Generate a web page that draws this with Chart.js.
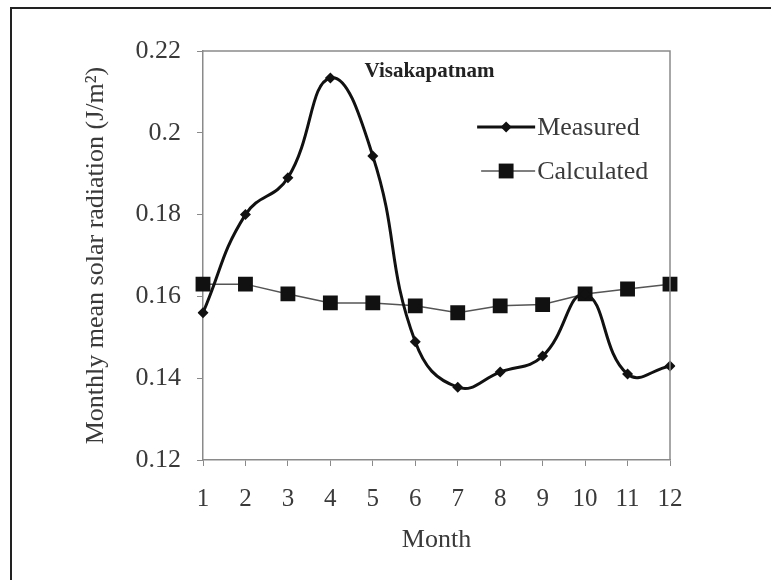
<!DOCTYPE html>
<html>
<head>
<meta charset="utf-8">
<script src="https://cdn.jsdelivr.net/npm/chart.js@4"></script>
<style>
    html, body { margin: 0; padding: 0; background: #fff; }
    #wrap { position: relative; width: 771px; height: 580px; overflow: hidden; }
    #frame { position: absolute; left: 10px; top: 7px; width: 800px; height: 600px;
             border-top: 2px solid #222; border-left: 2px solid #222; }
    canvas { position: absolute; left: 0; top: 0; }
</style>
</head>
<body>
<div id="wrap">
    <div id="frame"></div>
    <canvas id="chart" width="771" height="580"></canvas>
</div>
<script>
// Chart data
const months = ['1', '2', '3', '4', '5', '6', '7', '8', '9', '10', '11', '12'];
const measured = [0.156, 0.180, 0.189, 0.2134, 0.1943, 0.1489, 0.1378, 0.1415, 0.1454, 0.1605, 0.141, 0.143];
const calculated = [0.163, 0.163, 0.1606, 0.1584, 0.1584, 0.1577, 0.156, 0.1577, 0.158, 0.1606, 0.1618, 0.163];
const yTicks = [0.12, 0.14, 0.16, 0.18, 0.2, 0.22];

const serif = '"Liberation Serif", "Times New Roman", serif';
const axisGray = '#8a8a8a';
const textColor = '#3a3a3a';

// Plot box (top / right edges), inner title and legend
const extrasPlugin = {
    id: 'extras',
    afterDraw(chart) {
        const { ctx, chartArea: a } = chart;
        const w = a.right - a.left;
        ctx.save();
        ctx.strokeStyle = axisGray;
        ctx.lineWidth = 1.5;
        ctx.beginPath();
        ctx.moveTo(a.left, a.top);
        ctx.lineTo(a.right, a.top);
        ctx.lineTo(a.right, a.bottom);
        ctx.stroke();

        // title inside plot
        ctx.fillStyle = '#222';
        ctx.font = 'bold 21px ' + serif;
        ctx.textAlign = 'center';
        ctx.textBaseline = 'middle';
        ctx.fillText('Visakapatnam', a.left + w * 0.485, a.top + 21);

        // legend
        const lx = a.left + w * 0.587;
        chart.data.datasets.forEach((ds, i) => {
            const y = a.top + 76 + i * 44;
            ctx.strokeStyle = ds.borderColor;
            ctx.lineWidth = ds.borderWidth;
            ctx.beginPath();
            ctx.moveTo(lx + (i ? 4 : 0), y);
            ctx.lineTo(lx + 58, y);
            ctx.stroke();
            ctx.fillStyle = ds.pointBackgroundColor;
            const r = ds.pointRadius;
            const cx = lx + 29;
            if (ds.pointStyle === 'rect') {
                const s = r * Math.SQRT1_2;
                ctx.fillRect(cx - s, y - s, 2 * s, 2 * s);
            } else {
                ctx.beginPath();
                ctx.moveTo(cx, y - r);
                ctx.lineTo(cx + r, y);
                ctx.lineTo(cx, y + r);
                ctx.lineTo(cx - r, y);
                ctx.closePath();
                ctx.fill();
            }
            ctx.fillStyle = textColor;
            ctx.font = '26px ' + serif;
            ctx.textAlign = 'left';
            ctx.fillText(ds.label, lx + 60, y + 1);
        });
        ctx.restore();
    }
};

new Chart(document.getElementById('chart'), {
    type: 'line',
    data: {
        labels: months,
        datasets: [{
            label: 'Measured',
            data: measured,
            borderColor: '#111',
            borderWidth: 3,
            tension: 0.45,
            pointStyle: 'rectRot',
            pointRadius: 5.5,
            pointBackgroundColor: '#111',
            pointBorderColor: '#111',
            pointBorderWidth: 0
        }, {
            label: 'Calculated',
            data: calculated,
            borderColor: '#555',
            borderWidth: 1.5,
            tension: 0,
            pointStyle: 'rect',
            pointRadius: 10.5,
            pointBackgroundColor: '#111',
            pointBorderColor: '#111',
            pointBorderWidth: 0
        }]
    },
    options: {
        responsive: false,
        animation: false,
        events: [],
        layout: { padding: { left: 77, right: 101, top: 51, bottom: 20 } },
        plugins: {
            legend: { display: false },
            tooltip: { enabled: false }
        },
        scales: {
            x: {
                offset: false,
                afterFit: s => { s.height = 100; },
                grid: { drawOnChartArea: false, drawTicks: true, tickLength: 6, color: axisGray },
                border: { color: axisGray, width: 1.5 },
                ticks: { color: textColor, font: { family: serif, size: 25 }, padding: 18, maxRotation: 0, autoSkip: false },
                title: { display: true, text: 'Month', color: textColor, font: { family: serif, size: 26 } }
            },
            y: {
                min: 0.12,
                max: 0.22,
                afterFit: s => { s.width = 126; },
                afterBuildTicks: s => { s.ticks = yTicks.map(v => ({ value: v })); },
                grid: { drawOnChartArea: false, drawTicks: true, tickLength: 6, color: axisGray },
                border: { color: axisGray, width: 1.5 },
                ticks: {
                    color: textColor,
                    font: { family: serif, size: 26 },
                    padding: 16,
                    callback: v => String(Number(v.toFixed(2)))
                },
                title: {
                    display: true,
                    text: 'Monthly mean solar radiation (J/m\u00B2)',
                    color: textColor,
                    font: { family: serif, size: 26 }
                }
            }
        }
    },
    plugins: [extrasPlugin]
});
</script>
</body>
</html>
